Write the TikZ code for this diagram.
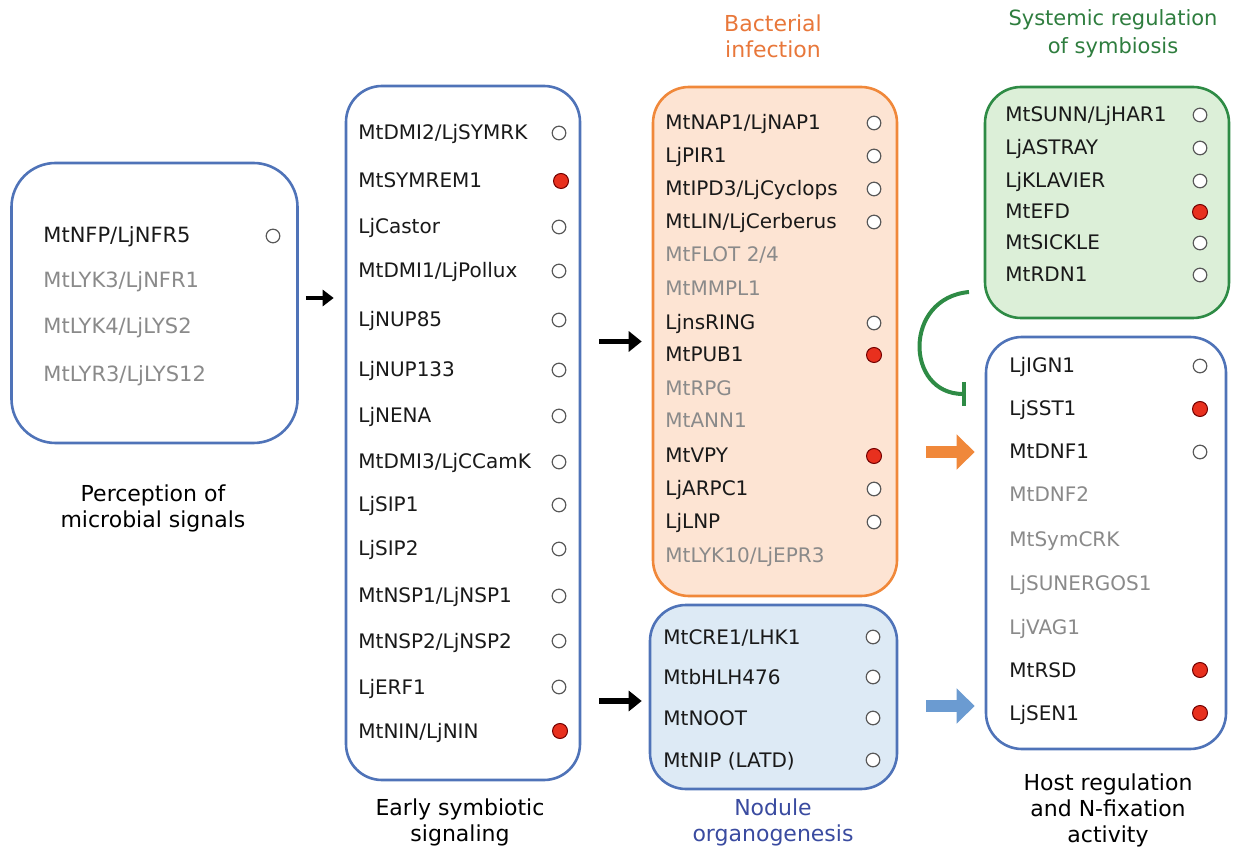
\documentclass[tikz,border=0pt]{standalone}
\usepackage{fontspec}
\setmainfont{DejaVu Sans}
\usetikzlibrary{arrows.meta}
\definecolor{bxblue}{HTML}{4F73B8}
\definecolor{bxorange}{HTML}{F0883A}
\definecolor{fillpeach}{HTML}{FDE4D3}
\definecolor{fillblue}{HTML}{DDEAF5}
\definecolor{bxgreen}{HTML}{2E8B45}
\definecolor{fillgreen}{HTML}{DCEFD8}
\definecolor{txtgray}{HTML}{8A8A8A}
\definecolor{dotred}{HTML}{E8301E}
\definecolor{ttlorange}{HTML}{E8773A}
\definecolor{ttlgreen}{HTML}{2E7D3E}
\definecolor{ttlblue}{HTML}{3A4BA0}
\definecolor{arrblue}{HTML}{6B9BD1}
\begin{document}
\begin{tikzpicture}[x=0.5pt,y=-0.5pt,
  bx/.style={draw=bxblue, line width=1.3pt, fill=white, rounded corners=18pt, inner sep=0pt},
  row/.style={anchor=west, inner sep=0pt, text height=7pt, text depth=0pt, font=\fontsize{10}{12}\selectfont, text=black!90},
  grayrow/.style={row, text=txtgray},
  prow/.style={row, font=\fontsize{10.5}{12}\selectfont},
  pgrayrow/.style={prow, text=txtgray},
  wc/.style={circle, draw=black!65, line width=0.6pt, fill=white, minimum size=6.8pt, inner sep=0pt},
  rc/.style={circle, draw=red!45!black, line width=0.5pt, fill=dotred, minimum size=7.5pt, inner sep=0pt},
  lbl/.style={align=center, font=\fontsize{11}{13}\selectfont, inner sep=0pt},
  blkarr/.style={line width=2.6pt, -{Triangle[length=6.5pt,width=10pt]}},
  fatarr/.style={line width=6pt, -{Triangle[length=9pt,width=17pt]}}
]
\useasboundingbox (0,0) rectangle (1235,854);

% boxes
\node[bx, rounded corners=22pt, minimum width=143pt, minimum height=140pt] (perc) at (154.5,303) {};
\node[bx, minimum width=117pt, minimum height=347pt] (early) at (463,433) {};
\node[bx, draw=bxorange, fill=fillpeach, minimum width=122pt, minimum height=254.5pt] (bact) at (775,341.5) {};
\node[bx, fill=fillblue, minimum width=123.5pt, minimum height=92pt] (nod) at (773.5,697) {};
\node[bx, draw=bxgreen, fill=fillgreen, minimum width=122pt, minimum height=115.5pt] (sys) at (1107,202.5) {};
\node[bx, minimum width=120pt, minimum height=206pt] (host) at (1106,543) {};

% perception
\node[prow] (p1) at (43,236) {MtNFP/LjNFR5};
\node[wc] (p1c) at (273,236) {};
\node[pgrayrow] (p2) at (43,281) {MtLYK3/LjNFR1};
\node[pgrayrow] (p3) at (43,327) {MtLYK4/LjLYS2};
\node[pgrayrow] (p4) at (43,375) {MtLYR3/LjLYS12};

% early
\node[row] (e1) at (358,133) {MtDMI2/LjSYMRK};  \node[wc] (e1c) at (559,133) {};
\node[row] (e2) at (358,181) {MtSYMREM1};       \node[rc] (e2c) at (561,181) {};
\node[row] (e3) at (358,227) {LjCastor};        \node[wc] (e3c) at (559,227) {};
\node[row] (e4) at (358,271) {MtDMI1/LjPollux}; \node[wc] (e4c) at (559,271) {};
\node[row] (e5) at (358,320) {LjNUP85};         \node[wc] (e5c) at (559,320) {};
\node[row] (e6) at (358,370) {LjNUP133};        \node[wc] (e6c) at (559,370) {};
\node[row] (e7) at (358,416) {LjNENA};          \node[wc] (e7c) at (559,416) {};
\node[row] (e8) at (358,462) {MtDMI3/LjCCamK};  \node[wc] (e8c) at (559,462) {};
\node[row] (e9) at (358,505) {LjSIP1};          \node[wc] (e9c) at (559,505) {};
\node[row] (e10) at (358,549) {LjSIP2};         \node[wc] (e10c) at (559,549) {};
\node[row] (e11) at (358,596) {MtNSP1/LjNSP1};  \node[wc] (e11c) at (559,596) {};
\node[row] (e12) at (358,641) {MtNSP2/LjNSP2};  \node[wc] (e12c) at (559,641) {};
\node[row] (e13) at (358,687) {LjERF1};         \node[wc] (e13c) at (559,687) {};
\node[row] (e14) at (358,731) {MtNIN/LjNIN};    \node[rc] (e14c) at (560,731) {};

% bacterial
\node[row] (b1) at (665,123) {MtNAP1/LjNAP1};     \node[wc] (b1c) at (874,123) {};
\node[row] (b2) at (665,156) {LjPIR1};            \node[wc] (b2c) at (874,156) {};
\node[row] (b3) at (665,189) {MtIPD3/LjCyclops};  \node[wc] (b3c) at (874,189) {};
\node[row] (b4) at (665,222) {MtLIN/LjCerberus};  \node[wc] (b4c) at (874,222) {};
\node[grayrow] (b5) at (665,255) {MtFLOT 2/4};
\node[grayrow] (b6) at (665,289) {MtMMPL1};
\node[row] (b7) at (665,323) {LjnsRING};          \node[wc] (b7c) at (874,323) {};
\node[row] (b8) at (665,355) {MtPUB1};            \node[rc] (b8c) at (874,355) {};
\node[grayrow] (b9) at (665,389) {MtRPG};
\node[grayrow] (b10) at (665,421) {MtANN1};
\node[row] (b11) at (665,456) {MtVPY};            \node[rc] (b11c) at (874,456) {};
\node[row] (b12) at (665,489) {LjARPC1};          \node[wc] (b12c) at (874,489) {};
\node[row] (b13) at (665,522) {LjLNP};            \node[wc] (b13c) at (874,522) {};
\node[grayrow] (b14) at (665,555) {MtLYK10/LjEPR3};

% nodule
\node[row] (n1) at (663,637) {MtCRE1/LHK1};   \node[wc] (n1c) at (873,637) {};
\node[row] (n2) at (663,677) {MtbHLH476};     \node[wc] (n2c) at (873,677) {};
\node[row] (n3) at (663,718) {MtNOOT};        \node[wc] (n3c) at (873,718) {};
\node[row] (n4) at (663,760) {MtNIP (LATD)};  \node[wc] (n4c) at (873,760) {};

% systemic
\node[row] (s1) at (1005,115) {MtSUNN/LjHAR1}; \node[wc] (s1c) at (1200,115) {};
\node[row] (s2) at (1005,148) {LjASTRAY};      \node[wc] (s2c) at (1200,148) {};
\node[row] (s3) at (1005,181) {LjKLAVIER};     \node[wc] (s3c) at (1200,181) {};
\node[row] (s4) at (1005,212) {MtEFD};         \node[rc] (s4c) at (1200,212) {};
\node[row] (s5) at (1005,243) {MtSICKLE};      \node[wc] (s5c) at (1200,243) {};
\node[row] (s6) at (1005,275) {MtRDN1};        \node[wc] (s6c) at (1200,275) {};

% host
\node[row] (h1) at (1009,366) {LjIGN1};        \node[wc] (h1c) at (1200,366) {};
\node[row] (h2) at (1009,409) {LjSST1};        \node[rc] (h2c) at (1200,409) {};
\node[row] (h3) at (1009,452) {MtDNF1};        \node[wc] (h3c) at (1200,452) {};
\node[grayrow] (h4) at (1009,495) {MtDNF2};
\node[grayrow] (h5) at (1009,539) {MtSymCRK};
\node[grayrow] (h6) at (1009,583) {LjSUNERGOS1};
\node[grayrow] (h7) at (1009,627) {LjVAG1};
\node[row] (h8) at (1009,670) {MtRSD};         \node[rc] (h8c) at (1200,670) {};
\node[row] (h9) at (1009,713) {LjSEN1};        \node[rc] (h9c) at (1200,713) {};

% labels
\node[lbl] (lp) at (153,508) {Perception of\\microbial signals};
\node[lbl] (le) at (460,822) {Early symbiotic\\signaling};
\node[lbl, text=ttlblue] (ln) at (773,822) {Nodule\\organogenesis};
\node[lbl] (lh) at (1108,810) {Host regulation\\and N-fixation\\activity};
\node[lbl, text=ttlorange] (lb) at (773,36) {Bacterial\\infection};
\node[lbl, text=ttlgreen, font=\fontsize{10.5}{14}\selectfont] (ls) at (1113,34) {Systemic regulation\\of symbiosis};

% arrows
\draw[blkarr, line width=2pt, -{Triangle[length=5.5pt,width=8pt]}] ([xshift=3.5pt,yshift=2.5pt]perc.east) -- ([xshift=-5.5pt,yshift=2.5pt]perc.east -| early.west);
\draw[blkarr] ([xshift=9pt]early.east |- bact.west) -- ([xshift=-5pt]bact.west);
\draw[blkarr] ([xshift=9pt,yshift=-2pt]early.east |- nod.west) -- ([xshift=-3.5pt,yshift=-2pt]nod.west);
\draw[fatarr, bxorange] ([xshift=14pt]bact.east |- h3) -- ([xshift=-5pt]host.west |- h3);
\draw[fatarr, arrblue] ([xshift=14pt,yshift=3.5pt]nod.east |- h9) -- ([xshift=-5pt,yshift=3.5pt]host.west |- h9);

% inhibition
\coordinate (inhS) at (969,292);
\coordinate (inhE) at (966,394);
\draw[bxgreen, line width=2pt, -{Bar[width=12pt]}] (inhS) .. controls (903,298) and (905,394) .. (inhE);
\end{tikzpicture}
\end{document}
